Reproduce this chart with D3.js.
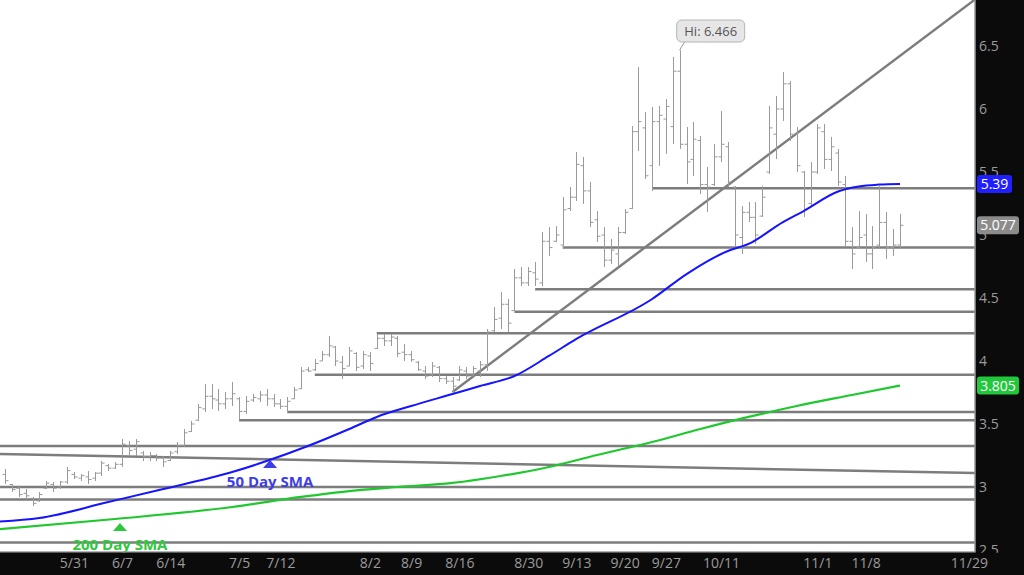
<!DOCTYPE html>
<html>
<head>
<meta charset="utf-8">
<script src="https://cdnjs.cloudflare.com/ajax/libs/d3/7.8.5/d3.min.js"></script>
<style>
  body { margin: 0; background: #0b0b0b; }
  svg { display: block; font-family: "Open Sans", "Noto Sans", sans-serif; }
</style>
</head>
<body>
<div id="chart"></div>
<script>
// daily bars (high / low / open / close), oldest first
var highs = [3.143,3.024,3.000,2.984,2.921,2.960,3.048,3.040,3.048,3.159,
  3.119,3.103,3.127,3.119,3.206,3.183,3.198,3.381,3.365,3.381,
  3.286,3.278,3.262,3.246,3.286,3.357,3.460,3.524,3.659,3.817,
  3.817,3.778,3.754,3.833,3.714,3.722,3.738,3.762,3.778,3.738,
  3.698,3.714,3.794,3.952,3.952,4.016,4.079,4.198,4.119,4.040,
  4.111,4.071,4.079,4.071,4.214,4.214,4.214,4.198,4.135,4.079,
  4.000,3.960,3.992,3.960,3.881,3.873,3.960,3.952,3.960,4.000,
  4.254,4.429,4.548,4.492,4.730,4.746,4.746,4.786,5.024,5.063,
  5.071,5.302,5.381,5.659,5.619,5.421,5.190,5.063,4.968,5.063,
  5.206,5.865,6.333,5.976,6.016,6.024,6.079,6.413,6.466,5.857,
  5.897,5.786,5.540,5.722,5.984,5.738,5.389,5.230,5.262,5.262,
  5.389,6.024,6.103,6.294,6.222,5.857,5.508,5.579,5.881,5.881,
  5.778,5.683,5.468,5.063,5.190,5.167,5.071,5.389,5.183,5.048,
  5.167];
var lows = [3.024,2.960,2.921,2.905,2.849,2.881,2.984,2.960,2.984,3.024,
  3.063,3.048,3.024,3.048,3.087,3.127,3.143,3.159,3.246,3.246,
  3.206,3.206,3.206,3.159,3.206,3.262,3.317,3.437,3.524,3.595,
  3.619,3.603,3.619,3.643,3.540,3.579,3.675,3.675,3.643,3.635,
  3.619,3.603,3.698,3.778,3.913,3.921,4.000,4.032,3.960,3.857,
  3.960,3.921,3.937,3.921,4.095,4.119,4.119,4.032,4.000,3.992,
  3.921,3.857,3.873,3.833,3.817,3.754,3.841,3.857,3.873,3.873,
  3.921,4.230,4.254,4.230,4.397,4.595,4.595,4.595,4.595,4.833,
  4.944,4.889,5.190,5.270,5.246,5.063,4.944,4.746,4.770,4.754,
  5.008,5.206,5.667,5.444,5.349,5.548,5.643,5.722,5.683,5.405,
  5.468,5.325,5.183,5.389,5.579,5.381,4.889,4.849,5.103,4.929,
  5.143,5.484,5.603,5.905,5.746,5.500,5.143,5.222,5.484,5.524,
  5.508,5.389,4.913,4.730,4.889,4.786,4.730,4.889,4.810,4.833,
  4.889];
var opens = [3.10,3.02,2.99,2.95,2.91,2.89,2.99,3.02,3.00,3.04,
  3.10,3.07,3.08,3.07,3.11,3.17,3.15,3.18,3.33,3.30,
  3.27,3.24,3.25,3.23,3.21,3.28,3.33,3.44,3.53,3.62,
  3.72,3.69,3.66,3.70,3.70,3.60,3.69,3.70,3.73,3.70,
  3.66,3.64,3.70,3.78,3.93,3.93,4.00,4.05,4.11,3.99,
  3.96,4.06,3.96,4.04,4.10,4.18,4.16,4.18,4.07,4.05,
  3.99,3.92,3.89,3.95,3.86,3.84,3.85,3.92,3.89,3.92,
  3.97,4.24,4.34,4.45,4.40,4.66,4.62,4.70,4.62,4.95,
  4.95,4.92,5.21,5.30,5.55,5.35,5.12,5.00,4.80,4.85,
  5.02,5.21,5.82,5.85,5.55,5.90,5.92,5.86,6.30,5.72,
  5.60,5.75,5.40,5.40,5.62,5.70,5.38,4.98,5.18,5.14,
  5.15,5.50,5.80,6.00,6.20,5.80,5.50,5.25,5.50,5.82,
  5.60,5.65,5.40,4.95,4.90,5.00,4.85,4.92,5.10,4.90,
  4.92];
var closes = [3.05,2.98,2.94,2.93,2.87,2.94,3.03,2.99,3.04,3.13,
  3.08,3.09,3.06,3.11,3.19,3.15,3.18,3.34,3.29,3.36,
  3.24,3.25,3.23,3.20,3.27,3.33,3.43,3.50,3.63,3.72,
  3.70,3.66,3.70,3.74,3.60,3.68,3.71,3.73,3.70,3.66,
  3.64,3.68,3.77,3.92,3.92,3.98,4.05,4.12,4.00,3.94,
  4.08,3.95,4.05,3.98,4.18,4.16,4.19,4.06,4.05,4.01,
  3.93,3.88,3.96,3.86,3.84,3.80,3.93,3.88,3.94,3.97,
  4.23,4.33,4.45,4.30,4.66,4.62,4.71,4.65,4.95,4.90,
  5.00,5.20,5.30,5.56,5.35,5.10,4.99,4.80,4.88,5.02,
  5.18,5.82,5.90,5.47,5.90,5.95,6.02,6.30,5.72,5.58,
  5.76,5.40,5.38,5.62,5.72,5.42,5.00,5.18,5.14,5.00,
  5.30,5.85,6.00,6.20,5.80,5.55,5.20,5.50,5.85,5.60,
  5.70,5.42,4.95,4.85,4.98,4.85,4.90,5.10,4.90,4.92,
  5.077];

var sma50Idx = [-1,5,15,23,33,38,44,50,54,59,65,69,74,79,83,94,99,105,108,113,116,121,124,127,130];
var sma50 = [2.725,2.754,2.881,2.984,3.119,3.206,3.325,3.46,3.556,3.643,3.738,3.802,3.881,4.04,4.175,4.492,4.69,4.873,4.929,5.103,5.19,5.345,5.385,5.40,5.405];
var sma200Idx = [-1,16,33,43,50,57,65,72,79,86,94,101,108,115,123,130];
var sma200 = [2.665,2.746,2.841,2.921,2.968,3.0,3.032,3.087,3.159,3.254,3.357,3.46,3.556,3.643,3.73,3.805];

// date labels and the bar they sit under
var dateLabels = ["5/31","6/7","6/14","7/5","7/12","8/2","8/9","8/16","8/30","9/13","9/20","9/27","10/11","11/1","11/8","11/29"];
var dateIdx = [10,17,24,34,40,53,59,66,76,83,90,96,104,118,125,140];
var priceTicks = [6.5, 6, 5.5, 5, 4.5, 4, 3.5, 3, 2.5];

// support / resistance levels and the bar where each one starts
var levels = [5.37, 4.9, 4.57, 4.39, 4.22, 3.89, 3.595, 3.53, 3.325, 3.0, 2.9, 2.56];
var levelStart = [94, 81, 77, 74, 54, 45, 41, 34, -2, -2, -2, -2];

// sloping lines: [startBar, startPrice, endBar, endPrice]
var trendLines = [[65, 3.754, 141, 6.873], [-1, 3.263, 141, 3.11]];

var hiIdx = 98;

var svgWidth = 1024;
var svgHeight = 575;
var plotW = 975;
var plotH = 552;

var svg = d3.select("#chart")
    .append("svg")
    .attr("width", svgWidth)
    .attr("height", svgHeight);

svg.append("rect")
    .attr("width", svgWidth)
    .attr("height", svgHeight)
    .attr("fill", "#0b0b0b");

svg.append("defs").append("clipPath")
    .attr("id", "plotClip")
    .append("rect")
    .attr("width", plotW)
    .attr("height", plotH);

svg.append("rect")
    .attr("width", plotW)
    .attr("height", plotH)
    .attr("fill", "#ffffff");

var xScale = d3.scaleLinear().domain([0, highs.length - 1]).range([5, 900]);
var yScale = d3.scaleLinear().domain([2.5, 6.865]).range([550, 0]);

var plot = svg.append("g").attr("clip-path", "url(#plotClip)");

// horizontal levels
plot.selectAll(".level")
    .data(levels)
    .enter()
    .append("line")
    .attr("x1", (d, i) => xScale(levelStart[i]))
    .attr("x2", plotW)
    .attr("y1", d => yScale(d))
    .attr("y2", d => yScale(d))
    .attr("stroke", "#7d7d7d")
    .attr("stroke-width", 2.5);

plot.selectAll(".trend")
    .data(trendLines)
    .enter()
    .append("line")
    .attr("x1", d => xScale(d[0]))
    .attr("y1", d => yScale(d[1]))
    .attr("x2", d => xScale(d[2]))
    .attr("y2", d => yScale(d[3]))
    .attr("stroke", "#7d7d7d")
    .attr("stroke-width", 2.5);

// OHLC bars
plot.selectAll(".bar")
    .data(highs)
    .enter()
    .append("path")
    .attr("d", function (d, i) {
        var x = Math.round(xScale(i)) + 0.5;
        return "M" + x + "," + yScale(d) + "V" + yScale(lows[i]) +
            "M" + (x - 3) + "," + yScale(opens[i]) + "H" + x +
            "M" + x + "," + yScale(closes[i]) + "H" + (x + 3);
    })
    .attr("fill", "none")
    .attr("stroke", "#9a9a9a")
    .attr("stroke-width", 1);

// moving averages
var smaLine = d3.line()
    .x(d => xScale(d[0]))
    .y(d => yScale(d[1]))
    .curve(d3.curveMonotoneX);

plot.append("path")
    .attr("d", smaLine(sma200Idx.map((d, i) => [d, sma200[i]])))
    .attr("fill", "none")
    .attr("stroke", "#1fc82e")
    .attr("stroke-width", 2.2);

plot.append("path")
    .attr("d", smaLine(sma50Idx.map((d, i) => [d, sma50[i]])))
    .attr("fill", "none")
    .attr("stroke", "#1414ff")
    .attr("stroke-width", 2);

// SMA labels with small triangles
var smaNotes = [
    { text: "50 Day SMA", idx: 38.5, value: 3.214, color: "#3c3cea" },
    { text: "200 Day SMA", idx: 16.7, value: 2.714, color: "#2ec83c" }
];
smaNotes.forEach(function (n) {
    var x = xScale(n.idx);
    var y = yScale(n.value);
    svg.append("path")
        .attr("d", `M${x},${y}L${x + 7},${y + 8}L${x - 7},${y + 8}Z`)
        .attr("fill", n.color);
    svg.append("text")
        .attr("x", x)
        .attr("y", y + 27)
        .attr("text-anchor", "middle")
        .attr("font-size", "15px")
        .attr("font-weight", "bold")
        .attr("fill", n.color)
        .text(n.text);
});

// high callout
var hx = xScale(hiIdx);
var hy = yScale(highs[hiIdx]);
svg.append("path")
    .attr("d", `M${hx + 5},42L${hx + 1},48L${hx},${hy}`)
    .attr("fill", "none")
    .attr("stroke", "#999")
    .attr("stroke-width", 1);
svg.append("rect")
    .attr("x", hx - 3)
    .attr("y", 20)
    .attr("width", 68)
    .attr("height", 22)
    .attr("rx", 5)
    .attr("fill", "#e6e6e6")
    .attr("stroke", "#b4b4b4");
svg.append("text")
    .attr("x", hx + 31)
    .attr("y", 36)
    .attr("text-anchor", "middle")
    .attr("font-size", "13px")
    .attr("fill", "#555")
    .text("Hi: " + highs[hiIdx]);

// plot border
svg.append("path")
    .attr("d", `M${plotW},0V${plotH}H0`)
    .attr("fill", "none")
    .attr("stroke", "#9a9a9a")
    .attr("stroke-width", 1.5);

// price axis on the right
var yAxis = d3.axisRight(yScale)
    .tickValues(priceTicks)
    .tickFormat(d3.format("~g"))
    .tickSize(0)
    .tickPadding(3);

var yAxisG = svg.append("g")
    .attr("transform", `translate(${plotW + 1}, 0)`)
    .call(yAxis);
yAxisG.select(".domain").remove();
yAxisG.selectAll("text")
    .attr("font-family", "Open Sans, Noto Sans, sans-serif")
    .attr("font-size", "14px")
    .attr("fill", "#9c9c9c");

// last value markers
var markers = [
    { value: sma50[sma50.length - 1], label: "5.39", color: "#1f1fff", w: 35 },
    { value: closes[closes.length - 1], label: "5.077", color: "#8c8c8c", w: 42 },
    { value: sma200[sma200.length - 1], label: "3.805", color: "#20c83a", w: 42 }
];
markers.forEach(function (m) {
    var y = yScale(m.value);
    svg.append("rect")
        .attr("x", plotW + 2)
        .attr("y", y - 9)
        .attr("width", m.w)
        .attr("height", 18)
        .attr("rx", 3)
        .attr("fill", m.color);
    svg.append("text")
        .attr("x", plotW + 2 + m.w / 2)
        .attr("y", y + 5)
        .attr("text-anchor", "middle")
        .attr("font-size", "14px")
        .attr("fill", "#ffffff")
        .text(m.label);
});

// bottom band covers the axis overflow
svg.append("rect")
    .attr("y", plotH + 0.75)
    .attr("width", svgWidth)
    .attr("height", svgHeight - plotH)
    .attr("fill", "#0b0b0b");

var xAxis = d3.axisBottom(xScale)
    .tickValues(dateIdx)
    .tickFormat((d, i) => dateLabels[i])
    .tickSize(0)
    .tickPadding(6);

var xAxisG = svg.append("g")
    .attr("transform", `translate(0, ${plotH})`)
    .call(xAxis);
xAxisG.select(".domain").remove();
xAxisG.selectAll("text")
    .attr("font-family", "Open Sans, Noto Sans, sans-serif")
    .attr("font-size", "14px")
    .attr("fill", "#9c9c9c");
</script>
</body>
</html>
